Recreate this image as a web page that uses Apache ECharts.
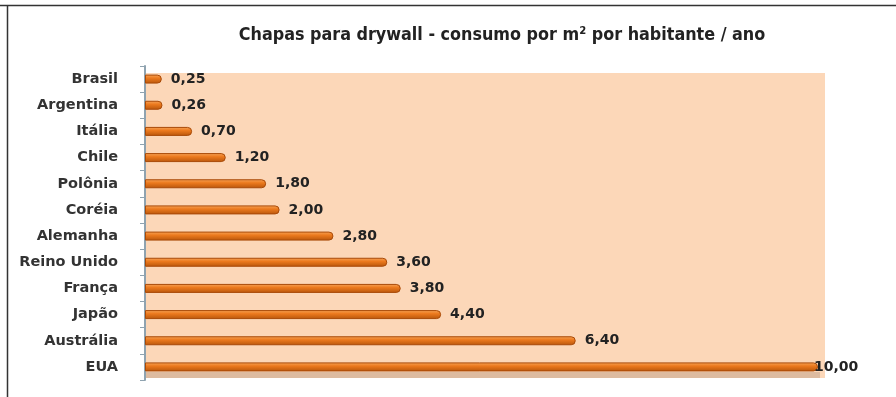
<!DOCTYPE html>
<html><head><meta charset="utf-8">
<script src="https://cdn.jsdelivr.net/npm/echarts@6/dist/echarts.min.js"></script>
<style>html,body{margin:0;padding:0;background:#fff}#c{width:896px;height:397px}</style>
</head><body><div id="c"></div>
<script>
const titleText = 'Chapas para drywall - consumo por m² por habitante / ano';
const categories = ['Brasil','Argentina','Itália','Chile','Polônia','Coréia','Alemanha','Reino Unido','França','Japão','Austrália','EUA'];
const values = [0.25,0.26,0.70,1.20,1.80,2.00,2.80,3.60,3.80,4.40,6.40,10.00];

const maxV = Math.max(...values);
const seriesData = values.map(v => v === maxV ? {value:v, label:{distance:-4}} : v);

const chart = echarts.init(document.getElementById('c'), null, {renderer:'canvas'});
chart.setOption({
  animation:false,
  backgroundColor:'#fff',
  title:{text:titleText,left:497,top:21,textAlign:'center',
    textStyle:{fontFamily:'DejaVu Sans Condensed, DejaVu Sans',fontWeight:'bold',fontSize:17.8,color:'#222'}},
  graphic:[
    {type:'line',shape:{x1:0,y1:5.5,x2:896,y2:5.5},style:{stroke:'#333',lineWidth:1.5}},
    {type:'line',shape:{x1:7.5,y1:5,x2:7.5,y2:397},style:{stroke:'#333',lineWidth:1.5}},
    {type:'rect',z:-10,shape:{x:145,y:73,width:680,height:305},style:{fill:'#FCD7B8'}},
    {type:'rect',z:-9,shape:{x:145,y:372,width:675,height:6},style:{fill:'#DDBBA0'}}
  ],
  grid:{left:145,right:78,top:66,bottom:17,show:false},
  xAxis:{type:'value',min:0,max:10,show:false},
  yAxis:{type:'category',data:categories,inverse:true,
    axisLine:{show:true,lineStyle:{color:'#8fa3b0',width:2}},
    axisTick:{show:true,length:5,lineStyle:{color:'#8fa3b0'}},
    axisLabel:{fontFamily:'DejaVu Sans',fontWeight:'bold',fontSize:14.5,color:'#333',margin:27}},
  series:[{type:'bar',data:seriesData,barWidth:9,
    itemStyle:{borderRadius:[0,4,4,0],borderColor:'#A94A08',borderWidth:1,
      color:new echarts.graphic.LinearGradient(0,0,0,1,[
        {offset:0,color:'#F7A55A'},{offset:0.4,color:'#EC7A1E'},{offset:1,color:'#B8560C'}])},
    label:{show:true,position:'right',distance:9,fontFamily:'DejaVu Sans',fontWeight:'bold',fontSize:14,color:'#222',
      formatter:p=>p.value.toFixed(2).replace('.',',')}}]
});
</script></body></html>
